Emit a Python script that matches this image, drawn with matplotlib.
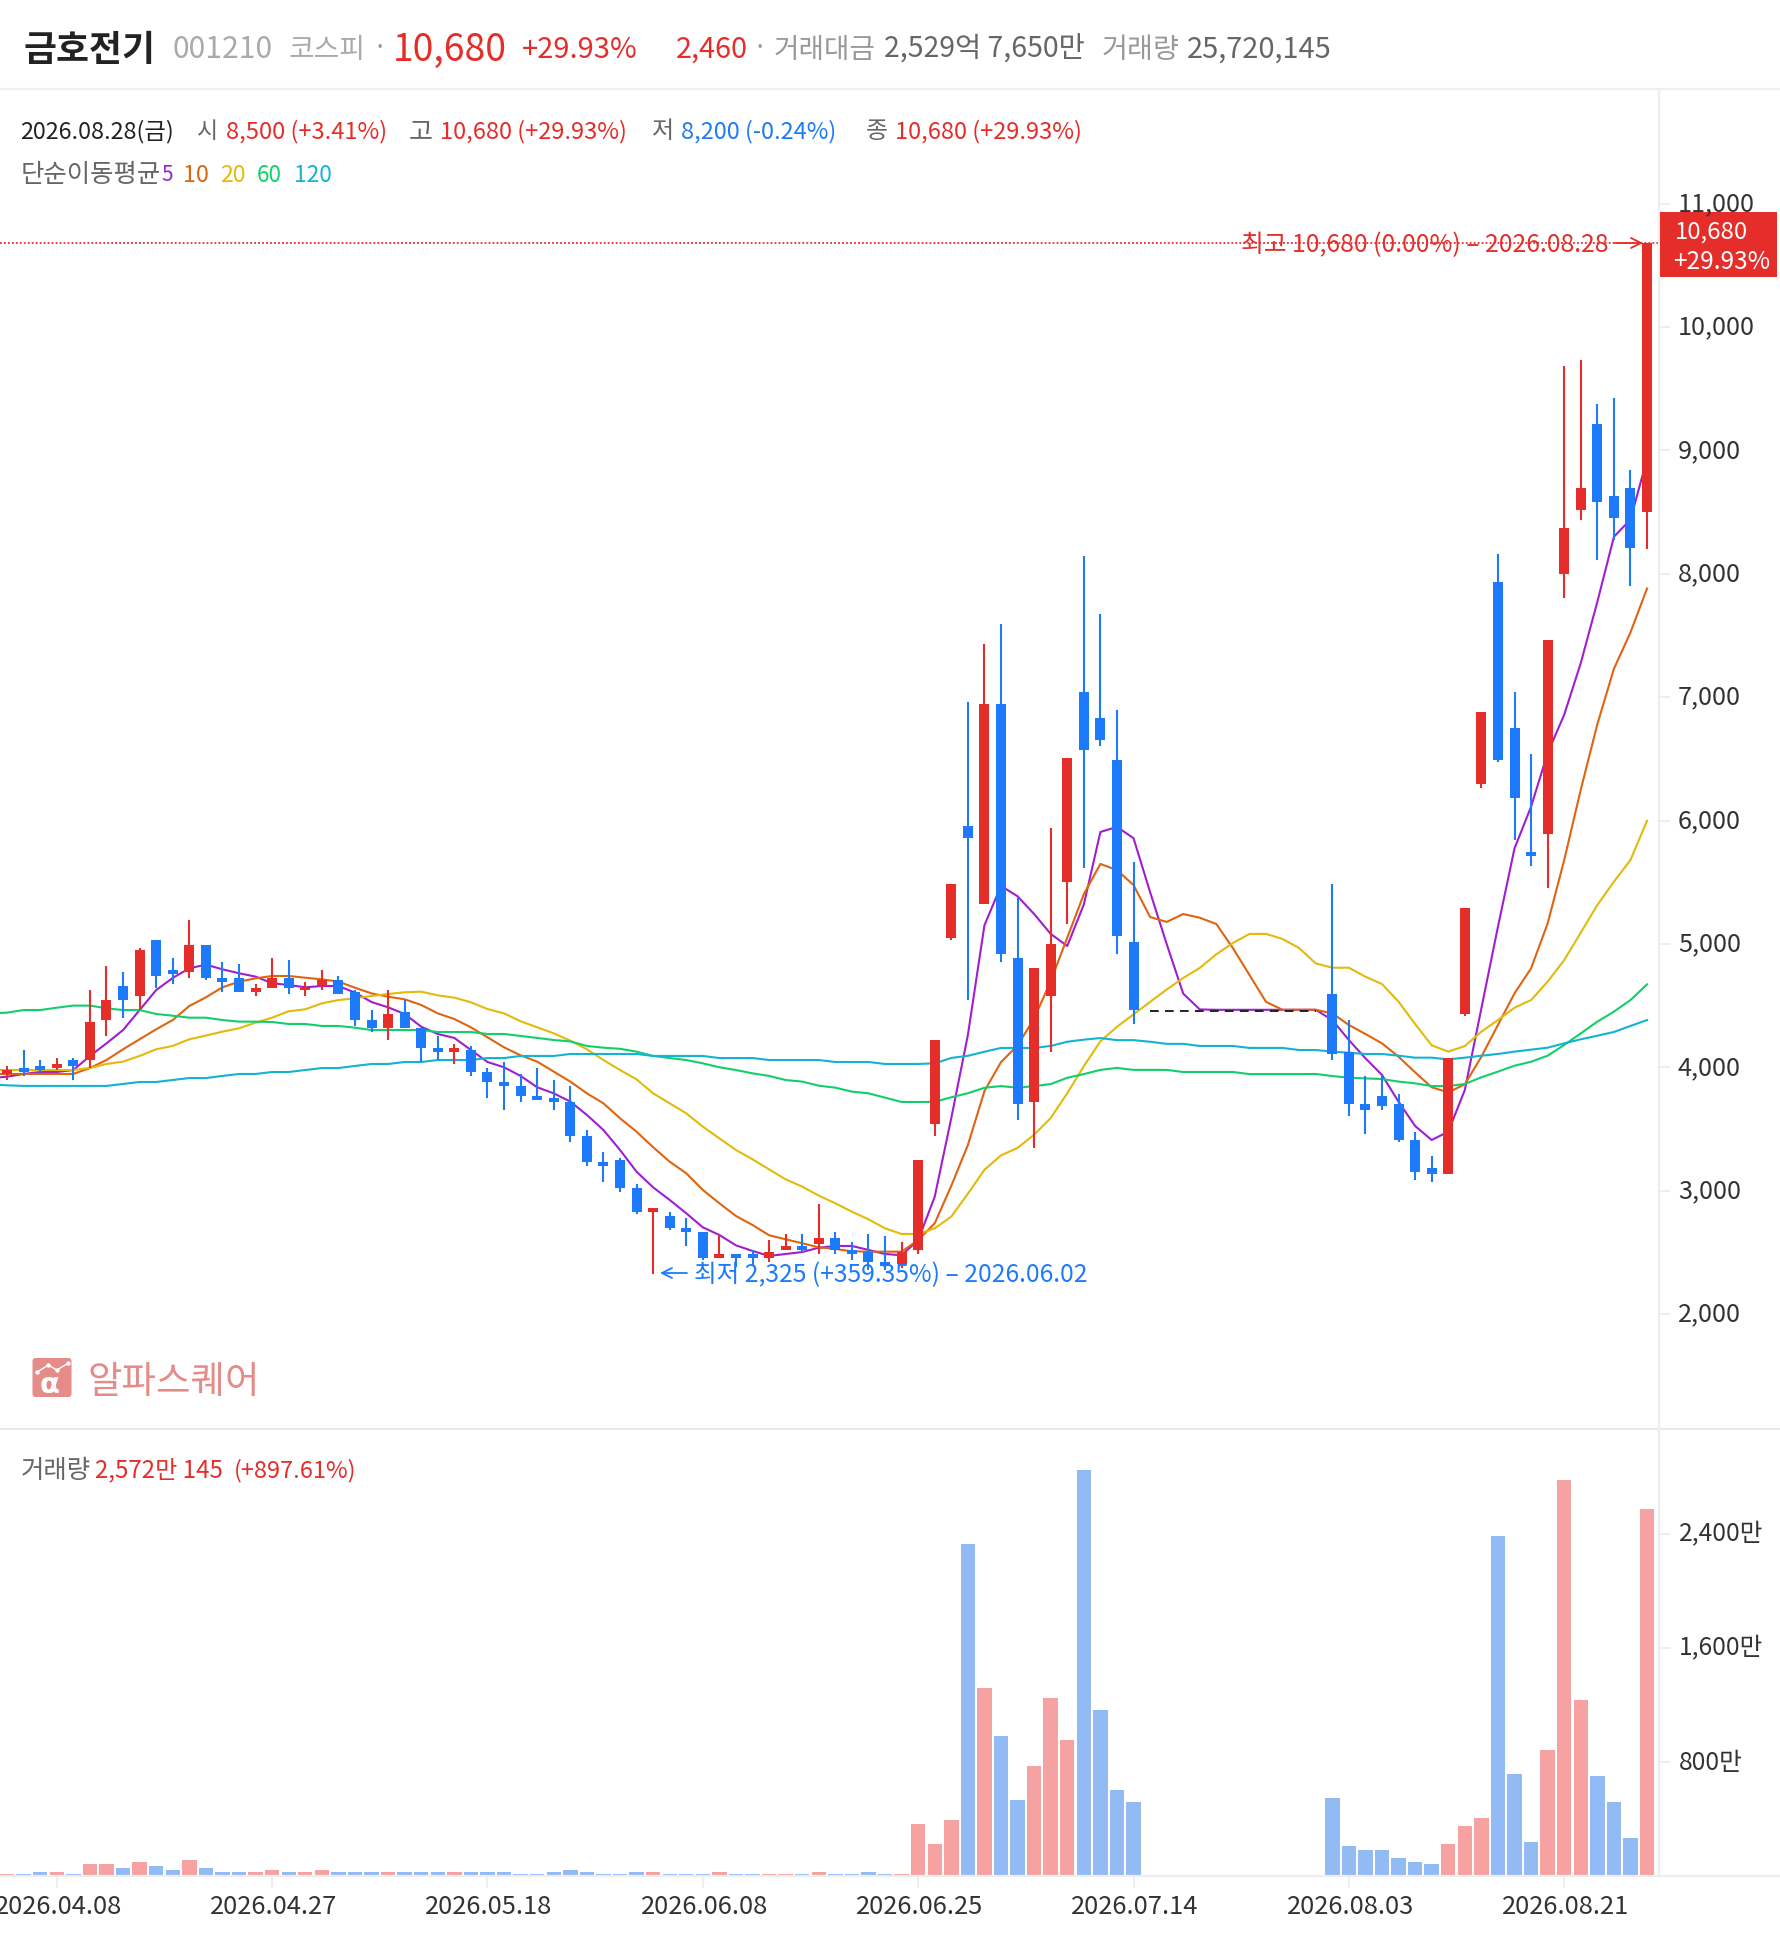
import numpy as np
import matplotlib
matplotlib.use("Agg")
import matplotlib.pyplot as plt
from matplotlib.patches import Rectangle, FancyBboxPatch

plt.rcParams['font.family'] = ['Noto Sans CJK KR', 'DejaVu Sans']
W, H = 1780, 1934
nan = float('nan')

opens = [3946,3994,4011,3994,4059,4059,4383,4659,4578,5030,4788,4772,4990,4724,4724,4610,4643,4724,4627,4659,
         4707,4610,4383,4319,4448,4319,4157,4124,4140,3962,3881,3849,3768,3751,3719,3443,3233,3249,3022,2828,
         2795,2698,2665,2455,2487,2487,2455,2520,2552,2568,2617,2520,2503,2422,2406,2520,3538,5047,5954,5323,
         6945,4886,3716,4577,5501,7040,6831,6488,5013,nan,nan,nan,nan,nan,nan,nan,nan,nan,nan,nan,
         4594,4124,3703,3767,3703,3411,3184,3135,4432,6296,7933,6749,5745,5890,7998,8516,9214,8628,8693,8500]
highs = [4010,4140,4059,4075,4075,4626,4821,4772,4970,5030,4886,5190,4990,4853,4837,4675,4886,4870,4691,4788,
         4740,4627,4464,4627,4545,4319,4254,4189,4173,3994,4043,3946,3994,3897,3849,3492,3314,3265,3054,2860,
         2827,2779,2665,2633,2487,2520,2600,2649,2649,2892,2665,2585,2649,2633,2585,3249,4220,5484,6959,7429,
         7591,5373,4805,5937,6505,8145,7675,6895,5662,nan,nan,nan,nan,nan,nan,nan,nan,nan,nan,nan,
         5485,4383,3929,3929,3784,3476,3281,4075,5291,6879,8160,7040,6539,7462,9682,9732,9375,9425,8839,10680]
lows = [3897,3930,3946,3978,3897,3994,4254,4400,4464,4643,4675,4724,4707,4610,4610,4578,4643,4594,4578,4627,
        4594,4335,4286,4221,4319,4043,4059,4027,3930,3751,3654,3719,3735,3654,3395,3200,3071,2990,2811,2325,
        2682,2552,2439,2455,2380,2398,2422,2520,2503,2487,2487,2439,2357,2357,2374,2487,3441,5034,4546,5323,
        4852,3572,3343,4126,5161,5615,6603,4916,4351,nan,nan,nan,nan,nan,nan,nan,nan,nan,nan,nan,
        4059,3605,3459,3654,3395,3087,3071,3135,4416,6265,6473,5842,5631,5453,7803,8436,8110,8274,7899,8200]
closes = [3978,3962,3978,4027,4011,4367,4545,4545,4950,4740,4756,4990,4724,4691,4610,4643,4724,4643,4643,4707,
          4594,4383,4319,4432,4319,4157,4124,4157,3962,3881,3849,3768,3735,3719,3443,3233,3200,3022,2828,2860,
          2698,2665,2455,2487,2455,2455,2503,2552,2520,2617,2520,2487,2422,2390,2503,3249,4220,5484,5857,6945,
          4916,3703,4805,5000,6505,6572,6653,5064,4462,nan,nan,nan,nan,nan,nan,nan,nan,nan,nan,nan,
          4108,3703,3654,3686,3411,3152,3135,4075,5291,6879,6491,6184,5712,7462,8370,8693,8581,8451,8209,10680]
halted = [nan]*69 + [4453]*11 + [nan]*20

# moving averages start one session left of the first visible candle
ma5 = [3912,3924,3946,3962,3962,3978,4092,4194,4302,4464,4626,4724,4802,4832,4794,4762,4735,4681,4667,4648,4659,
       4659,4605,4529,4486,4432,4329,4270,4238,4140,4043,4000,3930,3838,3789,3722,3614,3492,3330,3154,3027,
       2925,2817,2703,2641,2557,2512,2471,2487,2503,2538,2552,2552,2520,2487,2477,2600,2952,3589,4261,5151,
       5470,5386,5242,5081,4983,5319,5907,5948,5857,5420,5000,4597,4469,4466,4466,4466,4466,4466,4466,4466,
       4383,4221,4073,3938,3721,3524,3411,3478,3816,4478,5139,5774,6112,6547,6857,7276,7772,8299,8439,8930]
ma10 = [3946,3946,3946,3946,3946,3946,3994,4059,4146,4227,4308,4383,4497,4567,4648,4694,4721,4740,4740,4726,4713,
        4694,4645,4599,4572,4551,4505,4437,4391,4324,4243,4162,4097,4046,3965,3884,3789,3708,3587,3478,3352,
        3235,3141,3006,2898,2795,2722,2639,2606,2574,2541,2528,2509,2506,2506,2506,2600,2736,3040,3370,3807,
        4042,4177,4395,4698,5050,5403,5648,5598,5477,5218,5178,5242,5212,5161,4966,4748,4530,4466,4466,4466,
        4437,4343,4270,4194,4086,3959,3838,3797,3862,4086,4343,4599,4802,5166,5680,6250,6780,7229,7524,7880]
ma20 = [3978,3978,3978,3978,3978,3978,3994,4027,4046,4092,4146,4173,4227,4257,4289,4316,4362,4402,4454,4470,4518,
        4545,4559,4578,4594,4608,4613,4583,4564,4527,4472,4437,4373,4324,4275,4216,4146,4059,3978,3902,3789,
        3708,3627,3519,3424,3330,3254,3173,3092,3033,2960,2898,2830,2768,2695,2649,2649,2695,2790,2975,3170,
        3286,3347,3454,3589,3790,4009,4210,4328,4429,4530,4630,4724,4805,4916,5007,5081,5081,5040,4966,4842,
        4807,4807,4734,4675,4532,4351,4178,4127,4172,4289,4383,4483,4545,4694,4869,5091,5315,5504,5680,5998]
ma60 = [4437,4443,4464,4464,4483,4500,4500,4478,4464,4464,4432,4418,4402,4402,4383,4370,4370,4367,4351,4351,4335,
        4335,4321,4302,4302,4302,4302,4286,4286,4286,4270,4270,4254,4238,4221,4210,4173,4159,4150,4127,4092,
        4075,4059,4032,4000,3978,3951,3930,3897,3884,3851,3835,3803,3789,3754,3719,3719,3720,3757,3790,3834,
        3848,3834,3848,3864,3915,3945,3979,3995,3979,3979,3979,3962,3962,3962,3962,3945,3945,3945,3945,3946,
        3929,3916,3910,3905,3884,3870,3848,3848,3865,3919,3965,4013,4045,4094,4181,4275,4370,4451,4545,4672]
ma120 = [3862,3854,3849,3849,3849,3849,3849,3849,3865,3881,3881,3897,3913,3913,3930,3946,3946,3962,3962,3978,3994,
         3994,4011,4027,4027,4043,4043,4059,4059,4059,4075,4075,4092,4092,4092,4108,4108,4108,4108,4108,4092,
         4092,4092,4092,4075,4075,4075,4059,4059,4059,4059,4043,4043,4043,4027,4027,4027,4032,4076,4093,4126,
         4157,4157,4157,4173,4207,4224,4237,4220,4220,4207,4190,4190,4173,4173,4173,4157,4157,4157,4140,4140,
         4127,4118,4108,4108,4094,4078,4078,4064,4078,4094,4108,4127,4143,4159,4194,4227,4256,4286,4335,4383]
ma_series = [ma5, ma10, ma20, ma60, ma120]

volumes = [14,14,28,28,14,84,84,56,98,70,42,112,56,28,28,28,42,28,28,42,
           28,28,28,28,28,28,28,28,28,28,28,14,14,28,42,28,14,14,28,28,
           14,14,14,28,14,14,14,14,14,28,14,14,28,14,14,365,225,393,2330,1319,
           982,533,772,1249,954,2849,1165,603,519,0,0,0,0,0,0,0,0,0,0,0,
           547,210,182,182,126,98,84,225,351,407,2386,716,239,884,2779,1235,702,519,267,2572]

price_ticks = [2000,3000,4000,5000,6000,7000,8000,9000,10000,11000]
volume_ticks = [800,1600,2400]
volume_tick_labels = ['800만','1,600만','2,400만']
date_tick_idx = [3,16,29,42,55,68,81,94]
date_tick_labels = ['2026.04.08','2026.04.27','2026.05.18','2026.06.08','2026.06.25','2026.07.14','2026.08.03','2026.08.21']

RED, BLUE = '#E52D2A', '#1D7BFB'
PINK, LBLUE = '#F6A2A2', '#92BBF6'
MA_COL = ['#A01ED0', '#E0640F', '#E3BA0A', '#12CF6B', '#12B3D3']
GRID = '#EEEEEE'
LOGO = '#E58B88'

fig = plt.figure(figsize=(W/100, H/100), dpi=100, facecolor='white')

def px_axes(x0, y0, x1, y1):
    return fig.add_axes([x0/W, 1-y1/H, (x1-x0)/W, (y1-y0)/H])

# x scale: candle i sits at 7.1 + 16.565 i px
X0, DX = 7.1, 16.565
PANEL_R = 1659
xlim = (-X0/DX, (PANEL_R-X0)/DX)
# price scale
def p_of_y(y):
    return 3000 + (1190.7-y)/0.1234
PT, PB = 89, 1429
VT, VB = 1430, 1876

ax = px_axes(0, PT, PANEL_R, PB)
ax.set_xlim(xlim); ax.set_ylim(p_of_y(PB), p_of_y(PT))
ax.axis('off')
av = px_axes(0, VT, PANEL_R, VB)
av.set_xlim(xlim); av.set_ylim(0, (VB-VT)/0.1425)
av.axis('off')

idx = np.arange(len(closes))
ma_idx = np.arange(-1, len(closes))
o, h, l, c = map(np.array, (opens, highs, lows, closes))
valid = ~np.isnan(c)
up = c > o

for s, col in zip(ma_series, MA_COL):
    ax.plot(ma_idx, s, color=col, lw=1.5, zorder=2, solid_joinstyle='round')

colors = [RED if u else BLUE for u in up]
ax.vlines(idx[valid], l[valid], h[valid], colors=[colors[i] for i in idx[valid]], lw=1.5, zorder=3)
ax.bar(idx[valid], np.abs(c-o)[valid], bottom=np.minimum(o, c)[valid], width=10/DX,
       color=[colors[i] for i in idx[valid]], lw=0, zorder=4)
ax.plot(idx, halted, color='#222222', lw=1.4, dashes=(4.5, 3.2), zorder=3.5)

vcol = [PINK if u else LBLUE for u in up]
av.bar(idx, volumes, width=14.4/DX, color=vcol, lw=0)

# overlay axes in pixel coordinates for frame and text
ov = fig.add_axes([0, 0, 1, 1], zorder=10)
ov.set_xlim(0, W); ov.set_ylim(H, 0); ov.axis('off'); ov.patch.set_alpha(0)

ov.plot([0, W], [88.7, 88.7], color=GRID, lw=1.6)
ov.plot([0, W], [1429, 1429], color='#E6E6E6', lw=1.2)
ov.plot([0, W], [1876, 1876], color=GRID, lw=1.6)
ov.plot([PANEL_R, PANEL_R], [89, 1876], color=GRID, lw=1.6)

renderer = fig.canvas.get_renderer()
def T(x0, x1, y, s, color='#333333', size=26, weight='normal', ha='left', z=20):
    t = ov.text(x0, y, s, color=color, fontsize=size*0.72, fontweight=weight, ha=ha, va='center_baseline', zorder=z)
    if x1 is not None:
        w = t.get_window_extent(renderer).width
        t.set_fontsize(size*0.72*(x1-x0)/w)
    return t

# header
T(23.5, 155, 46, '금호전기', '#222222', 32, 'bold')
T(173, 273, 46, '001210', '#AAAAAA', 29)
T(289, 366, 46, '코스피', '#AAAAAA', 27)
T(373, None, 46, '·', '#999999', 26)
T(393, 507, 46, '10,680', RED, 37, 'medium')
T(522, 638, 46, '+29.93%', RED, 29)
T(676, 748, 46, '2,460', RED, 29)
T(753, None, 46, '·', '#999999', 26)
T(774, 876, 46, '거래대금', '#999999', 27)
T(884, 1085, 46, '2,529억 7,650만', '#666666', 28)
T(1102, 1180, 46, '거래량', '#999999', 27)
T(1187, 1332, 46, '25,720,145', '#666666', 28)

# OHLC line
ROW2, ROW3 = 128.7, 172.5
T(20, 173, ROW2, '2026.08.28(금)', '#222222', 23)
T(197, 218, ROW2, '시', '#666666', 23)
T(226, 387, ROW2, '8,500 (+3.41%)', RED, 23)
T(409, 433, ROW2, '고', '#666666', 23)
T(440, 627, ROW2, '10,680 (+29.93%)', RED, 23)
T(652, 674, ROW2, '저', '#666666', 23)
T(681, 836, ROW2, '8,200 (-0.24%)', BLUE, 23)
T(866, 888, ROW2, '종', '#666666', 23)
T(895, 1082, ROW2, '10,680 (+29.93%)', RED, 23)
# MA legend
T(21, 161, ROW3, '단순이동평균', '#666666', 23)
for (a, b, s, col) in [(161,172.6,'5',MA_COL[0]),(183,209,'10',MA_COL[1]),(220,245.5,'20',MA_COL[2]),
                       (257,282,'60',MA_COL[3]),(294,332,'120',MA_COL[4])]:
    T(a, b, ROW3, s, col, 23)

# price axis
for p in price_ticks:
    y = H - ax.transData.transform((0, p))[1]
    ov.plot([PANEL_R, PANEL_R+10], [y, y], color=GRID, lw=1.4)
    T(1678, None, y-2.5, f'{p:,}', '#333333', 25.2)

# high marker
ax.axhline(max(h[valid]), color=RED, lw=1.3, ls=(0, (1, 1.2)), zorder=5)
T(1241, 1608.6, 242, '최고 10,680 (0.00%) – 2026.08.28', RED, 25)
ov.annotate('', xy=(1643, 243), xytext=(1615, 243), arrowprops=dict(arrowstyle='->', color=RED, lw=1.3, mutation_scale=18, shrinkA=0, shrinkB=0))
ov.add_patch(Rectangle((1659.5, 211.5), 117.5, 65, color=RED, lw=0, zorder=15))
T(1675, 1748, 230, '10,680', 'white', 25)
T(1673, 1770, 259, '+29.93%', 'white', 25)

# low marker
T(694.5, 1089, 1272, '최저 2,325 (+359.35%) – 2026.06.02', BLUE, 25)
ov.annotate('', xy=(660, 1273), xytext=(687, 1273), arrowprops=dict(arrowstyle='->', color=BLUE, lw=1.3, mutation_scale=18, shrinkA=0, shrinkB=0))

# watermark
ov.add_patch(FancyBboxPatch((32.5, 1358), 39, 39, boxstyle='round,pad=0,rounding_size=3', color=LOGO, lw=0))
ov.plot([36.7, 48.3, 56.7, 68.3], [1372.3, 1365, 1370, 1363.3], color='white', lw=1.0, marker='o', ms=2.2)
ov.text(50, 1385, 'α', color='white', fontsize=21, ha='center', va='center', family='DejaVu Sans', fontweight='bold')
T(88, 260, 1378, '알파스퀘어', LOGO, 35, 'medium')

# volume axis
T(21, 91, 1468, '거래량', '#666666', 23)
T(95, 223, 1468, '2,572만 145', RED, 23)
T(234, 356, 1468, '(+897.61%)', RED, 23)
for v, s in zip(volume_ticks, volume_tick_labels):
    y = H - av.transData.transform((0, v))[1]
    ov.plot([PANEL_R, PANEL_R+10], [y, y], color=GRID, lw=1.4)
    T(1679, None, y-2.5, s, '#333333', 24.6)

# date axis
for i, s in zip(date_tick_idx, date_tick_labels):
    x = X0 + DX*i
    ov.plot([x, x], [1876, 1887], color=GRID, lw=1.4)
    ov.text(x+1.5, 1904, s, color='#333333', fontsize=25.5*0.72, ha='center', va='center_baseline')

fig.savefig('out.png', dpi=100, facecolor='white')
